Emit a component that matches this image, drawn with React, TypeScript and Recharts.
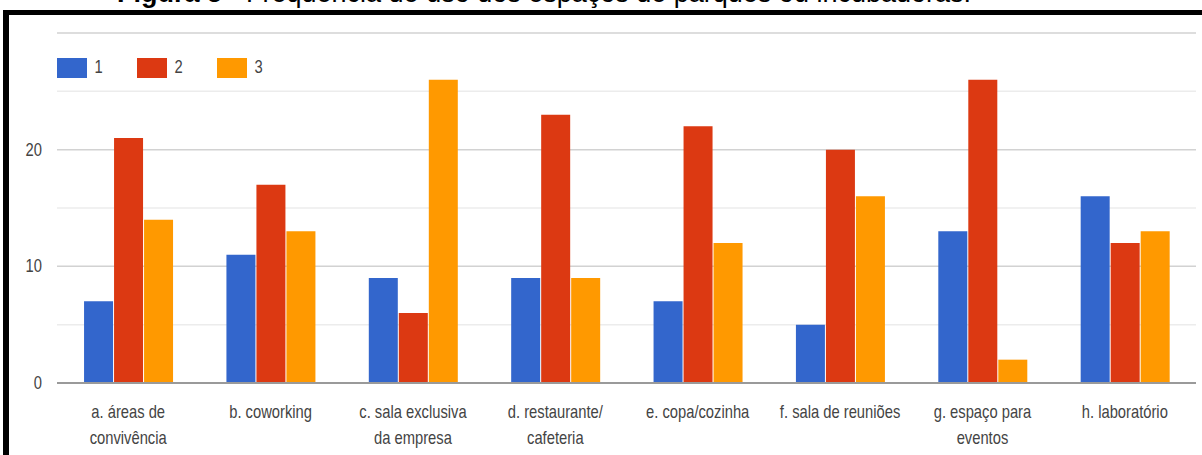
import React from 'react';
import { BarChart, Bar, XAxis, YAxis, CartesianGrid, Legend } from 'recharts';

// Categories (line breaks mark where the axis label wraps)
const categories: string[] = [
  'a. áreas de\nconvivência',
  'b. coworking',
  'c. sala exclusiva\nda empresa',
  'd. restaurante/\ncafeteria',
  'e. copa/cozinha',
  'f. sala de reuniões',
  'g. espaço para\neventos',
  'h. laboratório',
];

const seriesNames: string[] = ['1', '2', '3'];
const series1: number[] = [7, 11, 9, 9, 7, 5, 13, 16];
const series2: number[] = [21, 17, 6, 23, 22, 20, 26, 12];
const series3: number[] = [14, 13, 26, 9, 12, 16, 2, 13];
const seriesColors: string[] = ['#3366cc', '#dc3912', '#ff9900'];

const yTicks: number[] = [0, 5, 10, 15, 20, 25];
const yLabelled: number[] = [0, 10, 20];

const data = categories.map((c, i) => ({
  name: c,
  s1: series1[i],
  s2: series2[i],
  s3: series3[i],
}));

const FONT = '"Liberation Sans", Arial, sans-serif';

const XTick = (props: any) => {
  const { x, y, payload } = props;
  const lines: string[] = String(payload.value).split('\n');
  return (
    <g transform={`translate(${x},${y})`}>
      {lines.map((l, i) => (
        <text
          key={i}
          x={0}
          y={35 + i * 26}
          textAnchor="middle"
          transform="scale(0.82,1)"
          fill="#444"
          fontSize={18}
          fontFamily={FONT}
        >
          {l}
        </text>
      ))}
    </g>
  );
};

const YTick = (props: any) => {
  const { x, y, payload } = props;
  if (!yLabelled.includes(payload.value)) return <g />;
  return (
    <g transform={`translate(${x},${y}) scale(0.82,1)`}>
      <text x={0} y={0} dy={6} textAnchor="end" fill="#444" fontSize={18} fontFamily={FONT}>
        {payload.value}
      </text>
    </g>
  );
};

const GridLine = (p: any) => (
  <line
    key={p.key}
    x1={p.x1}
    y1={p.y1}
    x2={p.x2}
    y2={p.y2}
    stroke={p.index % 2 === 0 ? '#d2d2d2' : '#ececec'}
    strokeWidth={1.5}
  />
);

const LegendContent = () => (
  <div style={{ display: 'flex', alignItems: 'center', fontFamily: FONT }}>
    {seriesNames.map((n, i) => (
      <div key={n} style={{ display: 'flex', alignItems: 'center', marginRight: 10 }}>
        <div style={{ width: 30, height: 20, background: seriesColors[i] }} />
        <span
          style={{
            display: 'inline-block',
            width: 31,
            paddingLeft: 9,
            fontSize: 18,
            color: '#444',
            transform: 'scaleX(0.82)',
            transformOrigin: 'left center',
          }}
        >
          {n}
        </span>
      </div>
    ))}
  </div>
);

export default function App() {
  return (
    <div
      style={{
        position: 'absolute',
        left: 0,
        top: 0,
        width: 1202,
        height: 455,
        overflow: 'hidden',
        background: '#fff',
      }}
    >
      <div
        style={{
          position: 'absolute',
          left: 117,
          top: -20,
          fontFamily: FONT,
          fontSize: 27,
          lineHeight: '27px',
          whiteSpace: 'nowrap',
          color: '#000',
        }}
      >
        <b>Figura 5 - </b>Frequência de uso dos espaços de parques ou incubadoras.
      </div>
      <div
        style={{
          position: 'absolute',
          left: 3,
          top: 10,
          width: 1199,
          height: 445,
          borderTop: '5px solid #000',
          borderLeft: '6px solid #000',
          boxSizing: 'border-box',
        }}
      />
      <div style={{ position: 'absolute', left: 0, top: 0 }}>
        <BarChart
          width={1202}
          height={455}
          data={data}
          margin={{ top: 33, right: 6, bottom: 0, left: 12 }}
          barCategoryGap="19%"
          barGap={1}
        >
          <CartesianGrid vertical={false} horizontal={GridLine} />
          <XAxis
            dataKey="name"
            interval={0}
            height={72}
            tickSize={0}
            tickMargin={0}
            tick={<XTick />}
            axisLine={{ stroke: '#9a9a9a', strokeWidth: 2 }}
          />
          <YAxis
            domain={[0, 30]}
            ticks={yTicks}
            width={45}
            tickSize={0}
            tickMargin={15}
            axisLine={false}
            tick={<YTick />}
          />
          <Legend
            layout="horizontal"
            verticalAlign="middle"
            align="center"
            content={<LegendContent />}
            wrapperStyle={{ top: 57, left: 57, width: 'auto', height: 20 }}
          />
          <Bar dataKey="s1" name={seriesNames[0]} fill={seriesColors[0]} isAnimationActive={false} />
          <Bar dataKey="s2" name={seriesNames[1]} fill={seriesColors[1]} isAnimationActive={false} />
          <Bar dataKey="s3" name={seriesNames[2]} fill={seriesColors[2]} isAnimationActive={false} />
        </BarChart>
      </div>
    </div>
  );
}
